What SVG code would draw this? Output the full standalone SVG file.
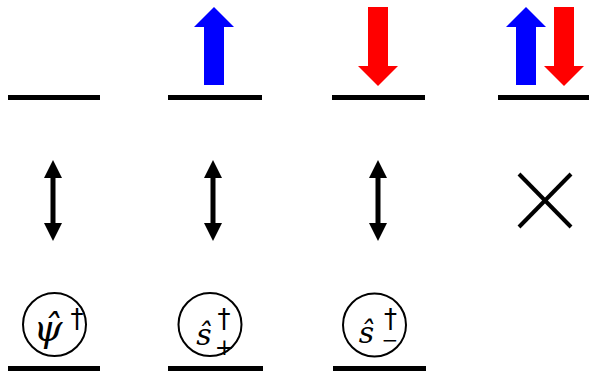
<svg xmlns="http://www.w3.org/2000/svg" width="590" height="372" viewBox="0 0 590 372">
<style>
.lvl{fill:#000}
.up{fill:#0000ff}
.dn{fill:#ff0000}
.circ{fill:none;stroke:#000;stroke-width:2}
.sym{font-family:"DejaVu Serif","Liberation Serif",serif;font-style:italic;fill:#000}
.op{font-family:"DejaVu Sans","Liberation Sans",sans-serif;fill:#000}
.conn{stroke:#000;stroke-width:5;fill:none}
.cross{stroke:#000;stroke-width:4;fill:none}
</style>
<defs>
<marker id="ah" viewBox="0 0 18 18" refX="2" refY="9" markerWidth="18" markerHeight="18" markerUnits="userSpaceOnUse" orient="auto-start-reverse">
<path d="M0,0 L18,9 L0,18 Z" fill="#000"/>
</marker>
</defs>
<g id="state-empty">
<rect class="lvl" x="8" y="95" width="92" height="5"/>
</g>
<g id="state-up">
<rect class="lvl" x="168" y="95" width="94" height="5"/>
<polygon class="up" points="204,85 204,27 194,27 214,7 234,27 224,27 224,85"/>
</g>
<g id="state-down">
<rect class="lvl" x="332" y="95" width="93" height="5"/>
<polygon class="dn" points="368,7 388,7 388,66 398,66 378,86 358,66 368,66"/>
</g>
<g id="state-double">
<rect class="lvl" x="498" y="95" width="91" height="5"/>
<polygon class="up" points="516,85 516,27 506,27 526,7 546,27 536,27 536,85"/>
<polygon class="dn" points="554,7 574,7 574,66 584,66 564,86 544,66 554,66"/>
</g>
<g id="connectors">
<line class="conn" x1="53" y1="176" x2="53" y2="225" marker-start="url(#ah)" marker-end="url(#ah)"/>
<line class="conn" x1="213" y1="176" x2="213" y2="225" marker-start="url(#ah)" marker-end="url(#ah)"/>
<line class="conn" x1="378" y1="176" x2="378" y2="225" marker-start="url(#ah)" marker-end="url(#ah)"/>
<line class="cross" x1="519" y1="174" x2="571" y2="227"/>
<line class="cross" x1="571" y1="174" x2="519" y2="227"/>
</g>
<g id="op-psi">
<rect class="lvl" x="8" y="366" width="92" height="5"/>
<circle class="circ" cx="54.5" cy="324.5" r="31.5"/>
<text class="sym" x="48" y="341" font-size="37" text-anchor="middle">ψ̂</text>
<text class="op" x="77" y="328" font-size="26" text-anchor="middle">†</text>
</g>
<g id="op-splus">
<rect class="lvl" x="168" y="366" width="95" height="5"/>
<circle class="circ" cx="210" cy="324.5" r="31.5"/>
<text class="sym" x="204" y="345" font-size="30" text-anchor="middle">ŝ</text>
<text class="op" text-anchor="middle"><tspan x="224" y="328" font-size="26">†</tspan><tspan x="224.5" y="355" font-size="23">+</tspan></text>
</g>
<g id="op-sminus">
<rect class="lvl" x="333" y="366" width="93" height="5"/>
<circle class="circ" cx="374.5" cy="325" r="31.5"/>
<text class="sym" x="366.5" y="343" font-size="30" text-anchor="middle">ŝ</text>
<text class="op" text-anchor="middle"><tspan x="390.5" y="328" font-size="26">†</tspan><tspan x="390" y="347" font-size="20">−</tspan></text>
</g>
</svg>
